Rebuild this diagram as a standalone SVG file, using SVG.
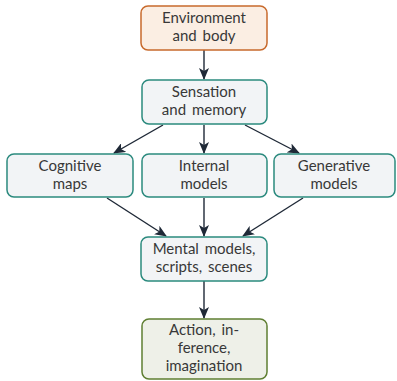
<svg xmlns="http://www.w3.org/2000/svg" width="397" height="381" viewBox="0 0 397 381">
<defs>
<marker id="ah" viewBox="0 0 12 10" refX="11" refY="5" markerWidth="12" markerHeight="10" markerUnits="userSpaceOnUse" orient="auto">
<path d="M0,0 L12,5 L0,10 L3,5 Z" fill="#1f2937"/>
</marker>
<style>
.box{stroke-width:1.5}
.teal{fill:#f2f4f6;stroke:#2b8a7e}
.orange{fill:#fbeee3;stroke:#c86a2c}
.green{fill:#eef0e8;stroke:#5f7f32}
.t{font-family:Lato,"Open Sans",sans-serif;font-size:15px;word-spacing:2px;fill:#383838;text-anchor:middle}
.c{stroke:#1f2937;stroke-width:1.4;fill:none;marker-end:url(#ah)}
</style>
</defs>
<g id="connectors">
<line class="c" x1="204" y1="50" x2="204" y2="79"/>
<line class="c" x1="163" y1="125" x2="114" y2="153"/>
<line class="c" x1="204" y1="125" x2="204" y2="153"/>
<line class="c" x1="245" y1="125" x2="299" y2="153"/>
<line class="c" x1="107" y1="198" x2="166" y2="236"/>
<line class="c" x1="204" y1="198" x2="204" y2="236"/>
<line class="c" x1="303" y1="198" x2="243" y2="236"/>
<line class="c" x1="204" y1="281" x2="204" y2="318"/>
</g>
<g id="env">
<rect class="box orange" x="141" y="6" width="126" height="44" rx="7"/>
<text class="t" x="204" y="23">Environment</text>
<text class="t" x="204" y="41">and body</text>
</g>
<g id="sensation">
<rect class="box teal" x="142" y="80" width="125" height="44" rx="7"/>
<text class="t" x="204" y="97">Sensation</text>
<text class="t" x="204" y="115">and memory</text>
</g>
<g id="cognitive">
<rect class="box teal" x="7" y="154" width="126" height="43" rx="7"/>
<text class="t" x="70" y="170.5">Cognitive</text>
<text class="t" x="70" y="188.5">maps</text>
</g>
<g id="internal">
<rect class="box teal" x="142" y="154" width="125" height="43" rx="7"/>
<text class="t" x="204" y="170.5">Internal</text>
<text class="t" x="204" y="188.5">models</text>
</g>
<g id="generative">
<rect class="box teal" x="274" y="154" width="121" height="43" rx="7"/>
<text class="t" x="334" y="170.5">Generative</text>
<text class="t" x="334" y="188.5">models</text>
</g>
<g id="mental">
<rect class="box teal" x="141" y="237" width="126" height="44" rx="7"/>
<text class="t" x="204" y="254">Mental models,</text>
<text class="t" x="204" y="272">scripts, scenes</text>
</g>
<g id="action">
<rect class="box green" x="142" y="319" width="125" height="60" rx="7"/>
<text class="t" x="204" y="335">Action, in-</text>
<text class="t" x="204" y="353">ference,</text>
<text class="t" x="204" y="371">imagination</text>
</g>
</svg>
